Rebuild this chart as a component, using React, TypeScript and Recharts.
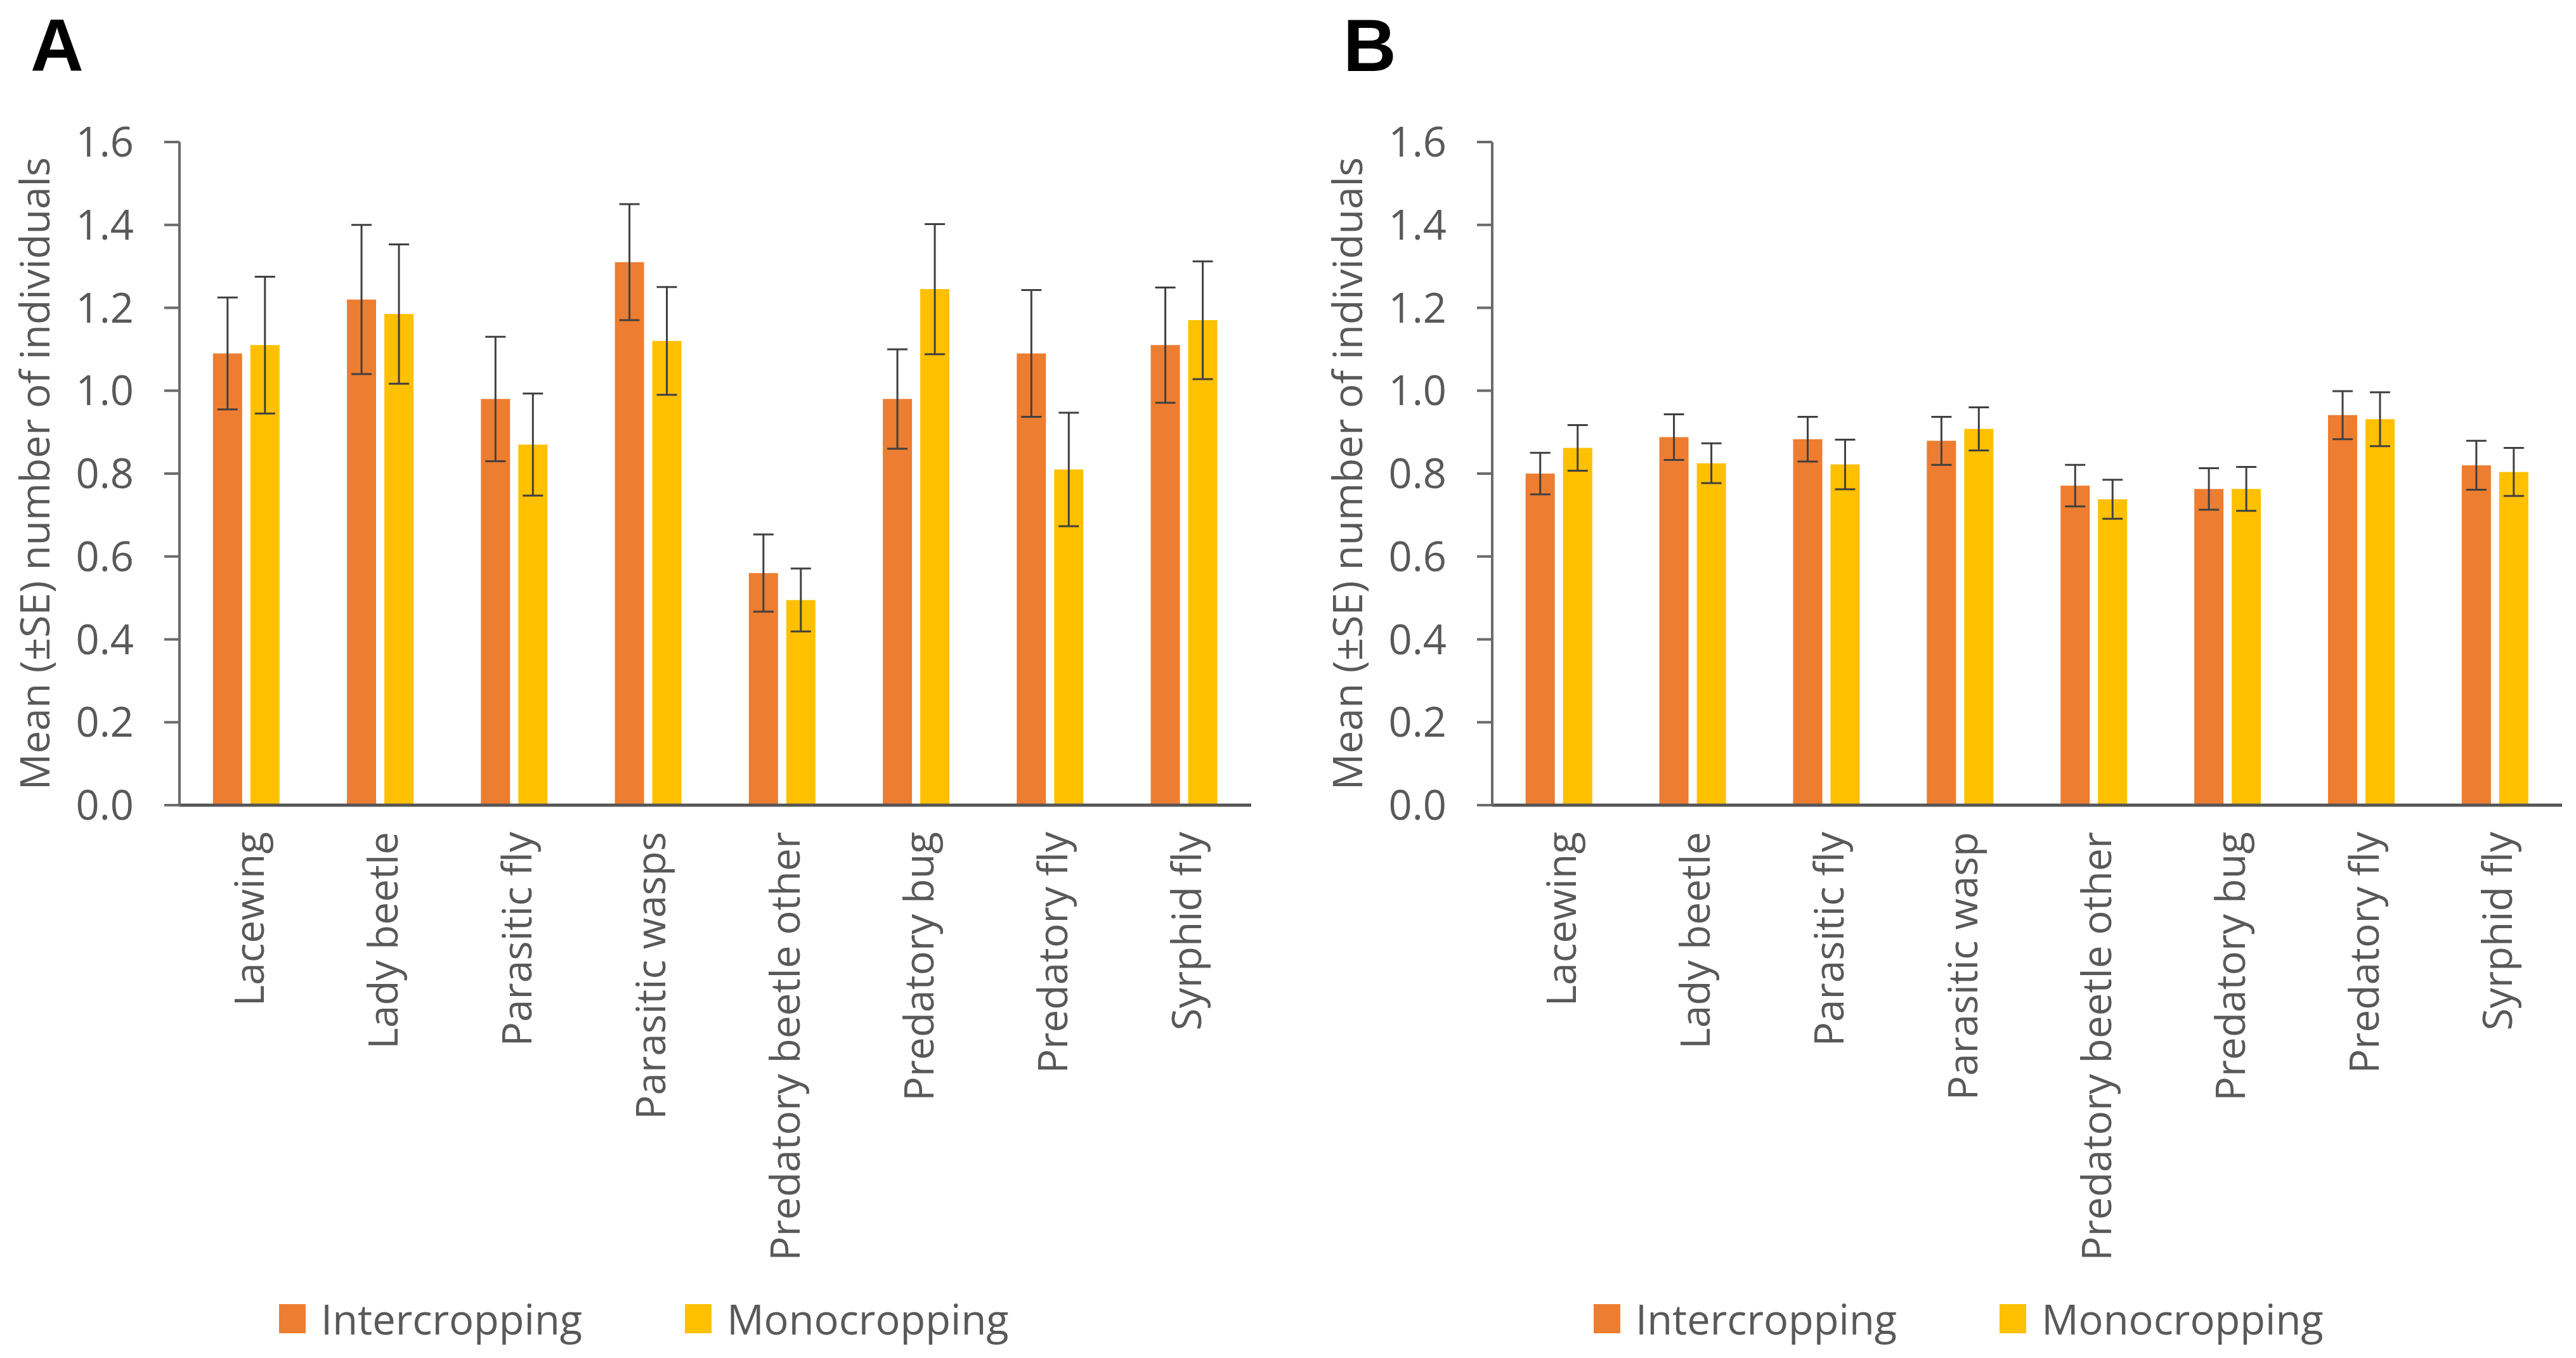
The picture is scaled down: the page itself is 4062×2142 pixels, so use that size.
import React from 'react';
import { BarChart, Bar, XAxis, YAxis, ErrorBar } from 'recharts';

const CATEGORIES_A = [
  'Lacewing',
  'Lady beetle',
  'Parasitic fly',
  'Parasitic wasps',
  'Predatory beetle other',
  'Predatory bug',
  'Predatory fly',
  'Syrphid fly',
];
const INTER_A = [1.09, 1.22, 0.98, 1.31, 0.56, 0.98, 1.09, 1.11];
const INTER_SE_A = [0.135, 0.18, 0.15, 0.14, 0.093, 0.12, 0.153, 0.139];
const MONO_A = [1.11, 1.185, 0.87, 1.12, 0.495, 1.245, 0.81, 1.17];
const MONO_SE_A = [0.165, 0.168, 0.123, 0.13, 0.076, 0.157, 0.137, 0.142];

const CATEGORIES_B = [
  'Lacewing',
  'Lady beetle',
  'Parasitic fly',
  'Parasitic wasp',
  'Predatory beetle other',
  'Predatory bug',
  'Predatory fly',
  'Syrphid fly',
];
const INTER_B = [0.8, 0.888, 0.883, 0.879, 0.771, 0.763, 0.941, 0.82];
const INTER_SE_B = [0.05, 0.055, 0.054, 0.058, 0.05, 0.05, 0.058, 0.059];
const MONO_B = [0.862, 0.825, 0.822, 0.908, 0.738, 0.763, 0.931, 0.804];
const MONO_SE_B = [0.055, 0.048, 0.06, 0.052, 0.047, 0.053, 0.065, 0.058];

const Y_TICKS = [0, 0.2, 0.4, 0.6, 0.8, 1.0, 1.2, 1.4, 1.6];
const SERIES_NAMES = ['Intercropping', 'Monocropping'];

const ORANGE = '#ED7D31';
const YELLOW = '#FFC000';
const TEXT = '#595959';
const FONT = '"Open Sans", "DejaVu Sans", sans-serif';
const Y_LABEL = 'Mean (±SE) number of individuals';

const CategoryTick = ({ x, y, payload }: any) => (
  <text
    x={x}
    y={y}
    transform={`rotate(-90, ${x}, ${y})`}
    textAnchor="end"
    dy="0.42em"
    fontSize={64}
    fontFamily={FONT}
    fill={TEXT}
  >
    {payload.value}
  </text>
);

type PanelProps = {
  letter: string;
  left: number;
  width: number;
  yAxisWidth: number;
  marginRight: number;
  legendLeft: number;
  categories: string[];
  inter: number[];
  interSE: number[];
  mono: number[];
  monoSE: number[];
};

function Panel({
  letter,
  left,
  width,
  yAxisWidth,
  marginRight,
  legendLeft,
  categories,
  inter,
  interSE,
  mono,
  monoSE,
}: PanelProps) {
  const data = categories.map((name, i) => ({
    name,
    inter: inter[i],
    interSE: interSE[i],
    mono: mono[i],
    monoSE: monoSE[i],
  }));
  const labelX = yAxisWidth - 228;

  return (
    <div style={{ position: 'absolute', left, top: 0, width, height: 2142 }}>
      <svg
        width={240}
        height={140}
        style={{ position: 'absolute', left: 0, top: 0, overflow: 'visible' }}
      >
        <text
          x={labelX - 7}
          y={112}
          fontFamily='"Liberation Sans", Arial, sans-serif'
          fontWeight={700}
          fontSize={116}
          fill="#000"
        >
          {letter}
        </text>
      </svg>
      <BarChart
        width={width}
        height={2142}
        data={data}
        margin={{ top: 224, right: marginRight, bottom: 0, left: 0 }}
        barCategoryGap="25%"
        barGap={13}
      >
        <XAxis
          dataKey="name"
          height={872}
          interval={0}
          tickLine={false}
          tickSize={0}
          tickMargin={42}
          axisLine={{ stroke: '#555555', strokeWidth: 5 }}
          tick={<CategoryTick />}
        />
        <YAxis
          width={yAxisWidth}
          domain={[0, 1.6]}
          ticks={Y_TICKS}
          interval={0}
          tickFormatter={(v: number) => v.toFixed(1)}
          tickSize={24}
          tickMargin={48}
          tick={{ fontSize: 65, fill: TEXT, fontFamily: FONT }}
          axisLine={{ stroke: '#6b6b6b', strokeWidth: 4 }}
          tickLine={{ stroke: '#6b6b6b', strokeWidth: 4 }}
          label={({ viewBox }: any) => {
            const cy = viewBox.y + viewBox.height / 2;
            return (
              <text
                x={labelX}
                y={cy}
                transform={`rotate(-90, ${labelX}, ${cy})`}
                textAnchor="middle"
                dy="0.36em"
                fontSize={64}
                fontFamily={FONT}
                fill={TEXT}
              >
                {Y_LABEL}
              </text>
            );
          }}
        />
        <Bar dataKey="inter" name={SERIES_NAMES[0]} fill={ORANGE} isAnimationActive={false}>
          <ErrorBar dataKey="interSE" direction="y" width={16} stroke="#404040" strokeWidth={3} />
        </Bar>
        <Bar dataKey="mono" name={SERIES_NAMES[1]} fill={YELLOW} isAnimationActive={false}>
          <ErrorBar dataKey="monoSE" direction="y" width={16} stroke="#404040" strokeWidth={3} />
        </Bar>
      </BarChart>
      <div
        style={{
          position: 'absolute',
          left: legendLeft,
          top: 2036,
          display: 'flex',
          alignItems: 'center',
          fontFamily: FONT,
          fontSize: 65,
          color: TEXT,
          whiteSpace: 'nowrap',
        }}
      >
        {SERIES_NAMES.map((s, i) => (
          <div
            key={s}
            style={{ display: 'flex', alignItems: 'center', marginRight: i === 0 ? 162 : 0 }}
          >
            <div
              style={{
                width: 42,
                height: 46,
                background: i === 0 ? ORANGE : YELLOW,
                marginRight: 24,
              }}
            />
            <span>{s}</span>
          </div>
        ))}
      </div>
    </div>
  );
}

export default function App() {
  return (
    <div
      style={{
        position: 'absolute',
        left: 0,
        top: 0,
        width: 4062,
        height: 2142,
        background: '#fff',
        overflow: 'hidden',
      }}
    >
      <Panel
        letter="A"
        left={0}
        width={2030}
        yAxisWidth={283}
        marginRight={57}
        legendLeft={440}
        categories={CATEGORIES_A}
        inter={INTER_A}
        interSE={INTER_SE_A}
        mono={MONO_A}
        monoSE={MONO_SE_A}
      />
      <Panel
        letter="B"
        left={2030}
        width={2032}
        yAxisWidth={323}
        marginRight={22}
        legendLeft={483}
        categories={CATEGORIES_B}
        inter={INTER_B}
        interSE={INTER_SE_B}
        mono={MONO_B}
        monoSE={MONO_SE_B}
      />
    </div>
  );
}
